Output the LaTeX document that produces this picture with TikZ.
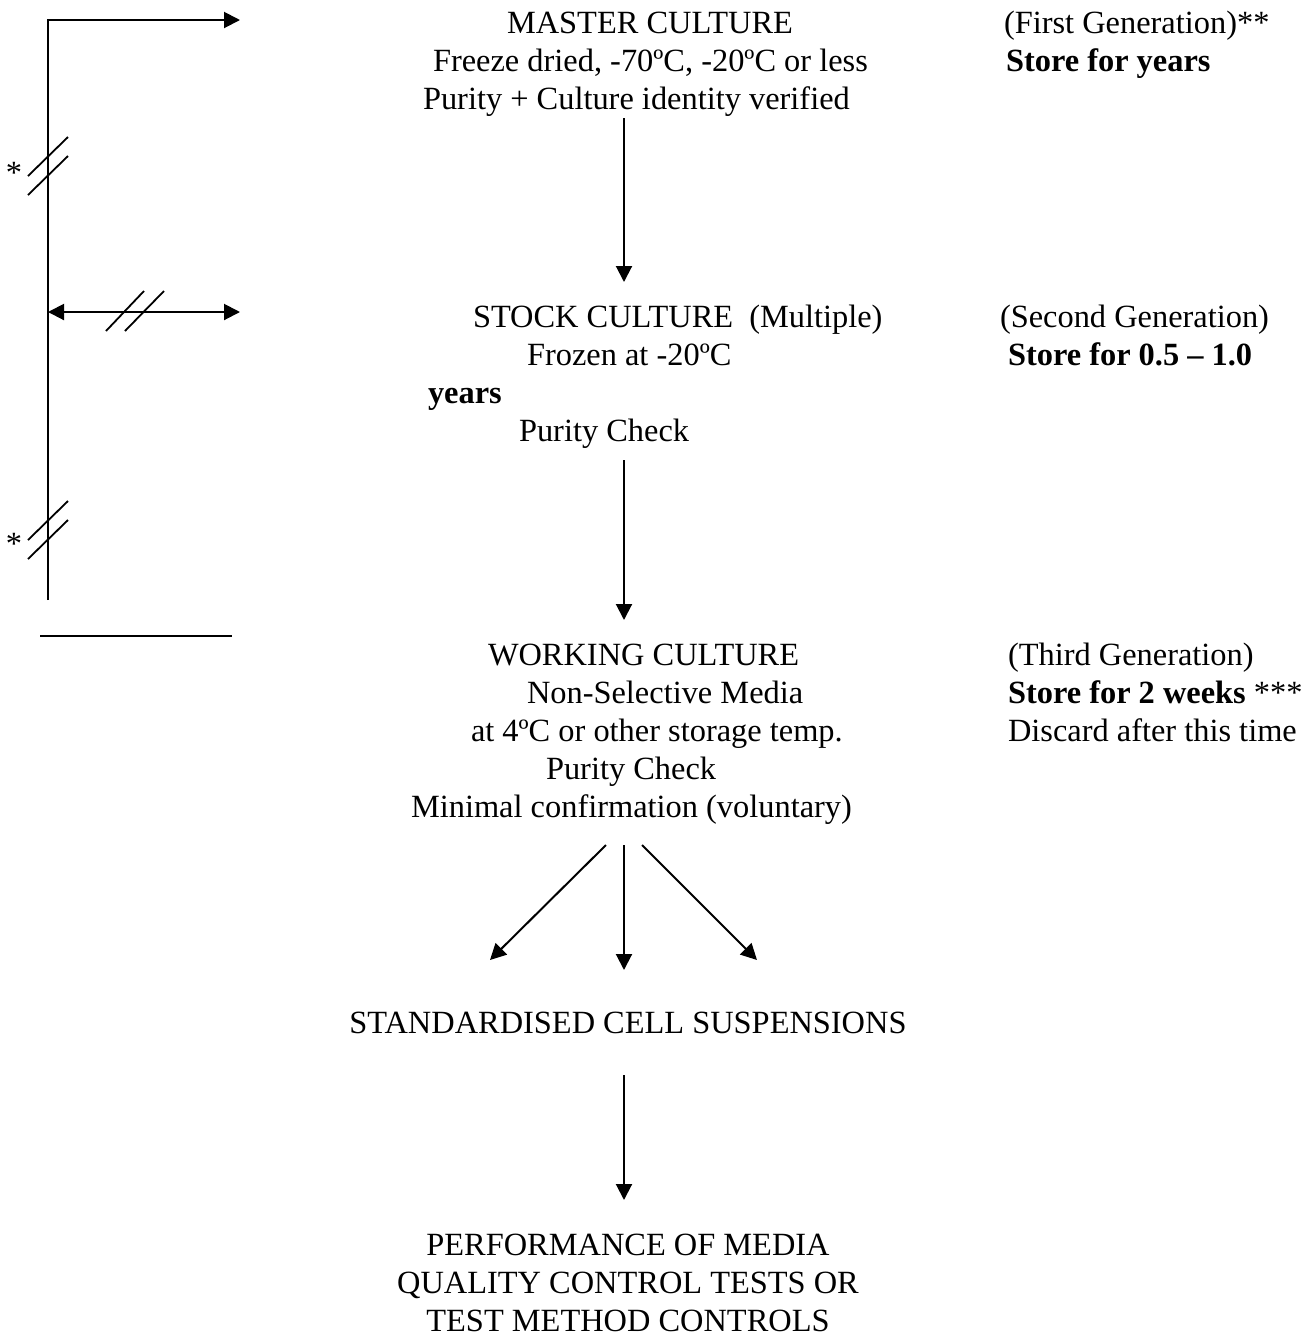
\documentclass[tikz,border=0pt]{standalone}
\usepackage{fontspec}
\setmainfont{Liberation Serif}
\usetikzlibrary{arrows.meta}
\newcommand\mainsz{\fontsize{16.2pt}{19pt}\selectfont}
\begin{document}
\begin{tikzpicture}[x=0.5pt,y=-0.5pt,line width=1pt,
  arr/.style={-{Triangle[length=8pt,width=8pt]}},
  darr/.style={{Triangle[length=8pt,width=8pt]}-{Triangle[length=8pt,width=8pt]}},
  txt/.style={inner sep=0pt,anchor=base west,font=\mainsz},
  ctxt/.style={inner sep=0pt,anchor=base,font=\mainsz},
  slash/.style={line width=0.9pt}]
\useasboundingbox (0,0) rectangle (1310,1335);

% master
\node[txt] (m1) at (506,33) {MASTER CULTURE};
\node[txt] (m2) at (432,71) {Freeze dried, -70ºC, -20ºC or less};
\node[txt] (m3) at (422,109) {Purity + Culture identity verified};
\node[txt] (g1) at (1003,33) {(First Generation)**};
\node[txt] (g1b) at (1005,71) {\textbf{Store for years}};

% stock
\node[txt] (s1) at (472,327) {STOCK CULTURE\ \ (Multiple)};
\node[txt] (s2) at (526,365) {Frozen at -20ºC};
\node[txt] (s3) at (427,403) {\textbf{years}};
\node[txt] (s4) at (518,441) {Purity Check};
\node[txt] (g2) at (999,327) {(Second Generation)};
\node[txt] (g2b) at (1007,365) {\textbf{Store for 0.5 – 1.0}};

% working
\node[txt] (w1) at (487,665) {WORKING CULTURE};
\node[txt] (w2) at (526,703) {Non-Selective Media};
\node[txt] (w3) at (470,741) {at 4ºC or other storage temp.};
\node[txt] (w4) at (545,779) {Purity Check};
\node[txt] (w5) at (410,817) {Minimal confirmation (voluntary)};
\node[txt] (g3) at (1007,665) {(Third Generation)};
\node[txt] (g3b) at (1007,703) {\textbf{Store for 2 weeks} ***};
\node[txt] (g3c) at (1007,741) {Discard after this time};

% bottom
\node[ctxt] (std) at (628,1033) {STANDARDISED CELL SUSPENSIONS};
\node[ctxt] (p1) at (628,1255) {PERFORMANCE OF MEDIA};
\node[ctxt] (p2) at (628,1293) {QUALITY CONTROL TESTS OR};
\node[ctxt] (p3) at (628,1331) {TEST METHOD CONTROLS};

% asterisks
\node[ctxt] (ast1) at (14,183) {*};
\node[ctxt] (ast2) at (14,554) {*};

% connector coordinates
\coordinate (a1s) at (624,118);  \coordinate (a1e) at (624,282);
\coordinate (a2s) at (624,460);  \coordinate (a2e) at (624,620);
\coordinate (a3s) at (624,845);  \coordinate (a3e) at (624,970);
\coordinate (dls) at (606,845);  \coordinate (dle) at (490,960);
\coordinate (drs) at (642,845);  \coordinate (dre) at (757,960);
\coordinate (a4s) at (624,1075); \coordinate (a4e) at (624,1200);

\draw[arr] (a1s) -- (a1e);
\draw[arr] (a2s) -- (a2e);
\draw[arr] (a3s) -- (a3e);
\draw[arr] (dls) -- (dle);
\draw[arr] (drs) -- (dre);
\draw[arr] (a4s) -- (a4e);

% left structure
\coordinate (L2) at (48,600);
\coordinate (T1) at (240,20);
\coordinate (M0) at (48,312);
\coordinate (M1) at (240,312);
\coordinate (H0) at (40,636);
\coordinate (H1) at (232,636);
\draw[arr] (L2) |- (T1);
\draw[darr] (M0) -- (M1);
\draw (H0) -- (H1);

% slashes
\draw[slash] (28,176) -- (68,137);
\draw[slash] (28,195) -- (68,156);
\draw[slash] (28,540) -- (68,501);
\draw[slash] (28,559) -- (68,520);
\draw[slash] (106,331) -- (144,291);
\draw[slash] (125,331) -- (164,291);
\end{tikzpicture}
\end{document}
